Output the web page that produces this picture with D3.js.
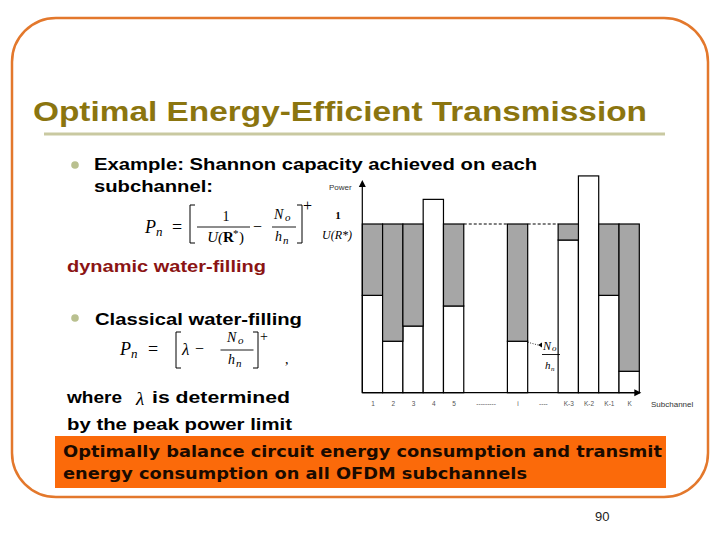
<!DOCTYPE html>
<html>
<head>
<meta charset="utf-8">
<script src="https://cdn.jsdelivr.net/npm/d3@7"></script>
<style>
    body { margin: 0; background: #fff; }
    svg { display: block; }
</style>
</head>
<body>
<svg id="slide" width="720" height="540"></svg>
<script>
// subchannels drawn on the chart and their place along the subchannel axis
const subchannels = ["1", "2", "3", "4", "5", "i", "K-3", "K-2", "K-1", "K"];
const slotIndex = [0, 1, 2, 3, 4, 7.15, 9.65, 10.65, 11.65, 12.65];
// noise floor No/hn of each subchannel, in units of the water level
const noiseFloor = [0.577, 0.305, 0.395, 1.146, 0.514, 0.305, 0.905, 1.285, 0.577, 0.127];
const waterLevel = 1;          // 1/U(R*)
const axisTop = 1.243;
const slotCount = 13.65;
// skipped subchannels: [from, to] on the axis and their label
const gapSpans = [[5, 7.15], [8.15, 9.65]];
const gapLabels = ["---------", "----"];

let svg = d3.select("#slide");
const sans = "'Liberation Sans', Arial, sans-serif";
const serif = "'Liberation Serif', 'Times New Roman', serif";

// slide frame
svg.append("rect")
    .attr("x", 12).attr("y", 18)
    .attr("width", 696).attr("height", 479)
    .attr("rx", 44).attr("ry", 44)
    .attr("fill", "none")
    .attr("stroke", "#e3782c")
    .attr("stroke-width", 2.5);

svg.append("text")
    .attr("x", 33).attr("y", 121)
    .attr("font-family", sans)
    .attr("font-weight", "bold")
    .attr("font-size", "28px")
    .attr("fill", "#8b750f")
    .attr("textLength", 614)
    .attr("lengthAdjust", "spacingAndGlyphs")
    .text("Optimal Energy-Efficient Transmission");

svg.append("rect")
    .attr("x", 44).attr("y", 132.5)
    .attr("width", 621).attr("height", 3)
    .attr("fill", "#c9c9a1");

// body text
function line(x, y, txt, len, color) {
    return svg.append("text")
        .attr("x", x).attr("y", y)
        .attr("font-family", sans)
        .attr("font-weight", "bold")
        .attr("font-size", "17px")
        .attr("fill", color || "#000")
        .attr("textLength", len)
        .attr("lengthAdjust", "spacingAndGlyphs")
        .text(txt);
}
[165, 318].forEach(cy => {
    svg.append("circle")
        .attr("cx", 75).attr("cy", cy).attr("r", 3.8)
        .attr("fill", "#b9c08f");
});
line(94, 170, "Example: Shannon capacity achieved on each", 443);
line(94, 192, "subchannel:", 119);
line(67, 272, "dynamic water-filling", 199, "#8b1414");
line(95, 325, "Classical water-filling", 207);
line(67, 403, "where", 55);
line(152, 403, "is determined", 138);
line(67, 430, "by the peak power limit", 225);
svg.append("text")
    .attr("x", 136).attr("y", 405)
    .attr("font-family", serif)
    .attr("font-style", "italic")
    .attr("font-size", "19px")
    .text("λ");

// math helpers
function mtext(x, y, txt, size, italic, anchor) {
    return svg.append("text")
        .attr("x", x).attr("y", y)
        .attr("font-family", serif)
        .attr("font-style", italic ? "italic" : "normal")
        .attr("font-size", size + "px")
        .attr("text-anchor", anchor || "start")
        .text(txt);
}
function hbar(x1, x2, y) {
    svg.append("line")
        .attr("x1", x1).attr("x2", x2).attr("y1", y).attr("y2", y)
        .attr("stroke", "#000").attr("stroke-width", 0.9);
}
function bracket(x, y1, y2, dir) {
    svg.append("path")
        .attr("d", `M${x + 5 * dir},${y1}H${x}V${y2}H${x + 5 * dir}`)
        .attr("fill", "none")
        .attr("stroke", "#000")
        .attr("stroke-width", 1);
}
function pn(x, y) {
    mtext(x, y, "P", 18, true);
    mtext(x + 11, y + 3, "n", 13, true);
}
function noFrac(cx, y, w) {
    mtext(cx - 10, y - 8, "N", 14, true);
    mtext(cx + 1, y - 6, "o", 11, true);
    hbar(cx - w / 2, cx + w / 2, y);
    mtext(cx - 9, y + 14, "h", 14, true);
    mtext(cx - 1, y + 17, "n", 11, true);
}

// formula 1
pn(145, 233);
mtext(172, 233, "=", 18, false);
bracket(190, 205, 243, 1);
mtext(226, 221, "1", 14, false, "middle");
hbar(197, 250, 227);
mtext(223, 242, "U(", 15, true, "end");
svg.append("text")
    .attr("x", 223).attr("y", 242)
    .attr("font-family", serif).attr("font-weight", "bold").attr("font-size", "15px")
    .text("R");
mtext(233, 237, "*", 11, false);
mtext(239, 242, ")", 15, false);
mtext(253, 232, "−", 16, false);
noFrac(284, 227, 24);
bracket(302, 205, 243, -1);
mtext(303, 211, "+", 16, false);

// formula 2
pn(120, 355);
mtext(148, 355, "=", 18, false);
bracket(176, 332, 368, 1);
mtext(182, 355, "λ", 17, true);
mtext(195, 354, "−", 16, false);
noFrac(237, 350, 33);
bracket(258, 332, 368, -1);
mtext(260, 341, "+", 14, false);
mtext(285, 364, ",", 14, false);

// water-filling chart
let x = d3.scaleLinear().domain([0, slotCount]).range([362.3, 639.3]);
let y = d3.scaleLinear().domain([0, waterLevel]).range([392.7, 224]);
let chans = subchannels.map((name, i) => ({ name: name, slot: slotIndex[i], floor: noiseFloor[i] }));
let g = svg.append("g");

g.selectAll("rect.floor")
    .data(chans)
    .join("rect")
    .attr("class", "floor")
    .attr("x", d => x(d.slot))
    .attr("y", d => y(d.floor))
    .attr("width", d => x(d.slot + 1) - x(d.slot))
    .attr("height", d => y(0) - y(d.floor))
    .attr("fill", "#fff")
    .attr("stroke", "#000")
    .attr("stroke-width", 1.2);

g.selectAll("rect.water")
    .data(chans.filter(d => d.floor < waterLevel))
    .join("rect")
    .attr("class", "water")
    .attr("x", d => x(d.slot))
    .attr("y", y(waterLevel))
    .attr("width", d => x(d.slot + 1) - x(d.slot))
    .attr("height", d => y(d.floor) - y(waterLevel))
    .attr("fill", "#a6a6a6")
    .attr("stroke", "#000")
    .attr("stroke-width", 1.2);

g.selectAll("line.gap")
    .data(gapSpans)
    .join("line")
    .attr("class", "gap")
    .attr("x1", d => x(d[0])).attr("x2", d => x(d[1]))
    .attr("y1", y(waterLevel)).attr("y2", y(waterLevel))
    .attr("stroke", "#000")
    .attr("stroke-width", 1)
    .attr("stroke-dasharray", "3,2");

// axes with arrow heads
g.append("line")
    .attr("x1", x(0)).attr("x2", x(0))
    .attr("y1", y(0)).attr("y2", y(axisTop) + 4)
    .attr("stroke", "#000").attr("stroke-width", 1.2);
g.append("path")
    .attr("d", `M${x(0)},${y(axisTop) - 3}l-3.5,7h7z`)
    .attr("fill", "#000");
g.append("line")
    .attr("x1", x(0)).attr("x2", x(slotCount) - 4)
    .attr("y1", y(0)).attr("y2", y(0))
    .attr("stroke", "#000").attr("stroke-width", 1.2);
g.append("path")
    .attr("d", `M${x(slotCount) + 2},${y(0)}l-7,-3.5v7z`)
    .attr("fill", "#000");

let ticks = chans.map(d => ({ v: d.slot + 0.5, label: d.name }))
    .concat(gapSpans.map((s, i) => ({ v: (s[0] + s[1]) / 2, label: gapLabels[i] })));
let labelFor = new Map(ticks.map(t => [t.v, t.label]));
g.append("g")
    .attr("transform", `translate(0,${y(0) + 6})`)
    .call(d3.axisBottom(x)
        .tickValues(ticks.map(t => t.v))
        .tickSize(0)
        .tickFormat(v => labelFor.get(v)))
    .call(a => a.select(".domain").remove())
    .selectAll("text")
    .attr("font-family", sans)
    .attr("font-size", "6.5px")
    .attr("fill", "#555");

g.append("text")
    .attr("x", 329).attr("y", 190)
    .attr("font-family", sans).attr("font-size", "8px").attr("fill", "#333")
    .text("Power");
g.append("text")
    .attr("x", 651).attr("y", 407)
    .attr("font-family", sans).attr("font-size", "8px").attr("fill", "#333")
    .text("Subchannel");

// water level label 1/U(R*)
mtext(338, 219, "1", 11, false, "middle").attr("font-weight", "bold");
mtext(337, 239, "U(R*)", 12, true, "middle");

// No/hn pointer
g.append("line")
    .attr("x1", x(8.15)).attr("y1", y(noiseFloor[5]) + 1)
    .attr("x2", 538).attr("y2", 345)
    .attr("stroke", "#000").attr("stroke-width", 0.8)
    .attr("stroke-dasharray", "1,1.5");
g.append("path")
    .attr("d", "M538,345l4,-2.5v5z")
    .attr("fill", "#000");
mtext(543, 350, "N", 12, true);
mtext(552, 351, "o", 9, true);
hbar(542, 560, 354.5);
mtext(545, 369, "h", 11, true);
mtext(551, 371, "n", 7, true);

// conclusion box
svg.append("rect")
    .attr("x", 55).attr("y", 436)
    .attr("width", 611).attr("height", 52)
    .attr("fill", "#fb6a0a");
[["Optimally balance circuit energy consumption and transmit", 457, 599],
 ["energy consumption on all OFDM subchannels", 479, 464]].forEach(d => {
    svg.append("text")
        .attr("x", 63).attr("y", d[1])
        .attr("font-family", "'DejaVu Sans', Verdana, sans-serif")
        .attr("font-weight", "bold")
        .attr("font-size", "15px")
        .attr("fill", "#1a0a00")
        .attr("textLength", d[2])
        .attr("lengthAdjust", "spacingAndGlyphs")
        .text(d[0]);
});

svg.append("text")
    .attr("x", 595).attr("y", 521)
    .attr("font-family", sans).attr("font-size", "13px").attr("fill", "#222")
    .text("90");
</script>
</body>
</html>
